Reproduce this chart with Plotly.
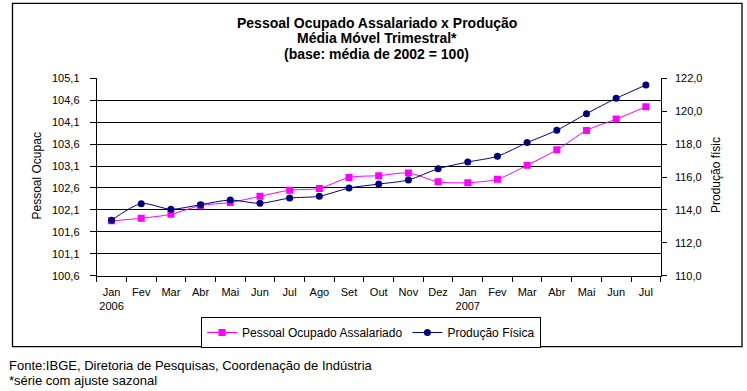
import plotly.graph_objects as go

# ---- data ----
months = ["Jan", "Fev", "Mar", "Abr", "Mai", "Jun", "Jul", "Ago", "Set", "Out",
          "Nov", "Dez", "Jan", "Fev", "Mar", "Abr", "Mai", "Jun", "Jul"]
years = {0: "2006", 12: "2007"}
pessoal = [101.85, 101.91, 102.00, 102.20, 102.27, 102.41, 102.55, 102.59, 102.84, 102.88,
           102.94, 102.74, 102.72, 102.80, 103.12, 103.47, 103.91, 104.17, 104.45]
producao = [113.37, 114.38, 114.04, 114.32, 114.60, 114.40, 114.72, 114.83, 115.33, 115.57,
            115.82, 116.50, 116.91, 117.26, 118.09, 118.84, 119.85, 120.78, 121.59]
left_ticks = [100.6, 101.1, 101.6, 102.1, 102.6, 103.1, 103.6, 104.1, 104.6, 105.1]
right_ticks = [110, 112, 114, 116, 118, 120, 122]

title_lines = ["Pessoal Ocupado Assalariado x Produção",
               "Média Móvel Trimestral*",
               "(base: média de 2002 = 100)"]
footer_lines = ["Fonte:IBGE, Diretoria de Pesquisas, Coordenação de Indústria",
                "*série com ajuste sazonal"]

FONT = "Liberation Sans, Arial, sans-serif"
W, H = 747, 391
xs = list(range(len(months)))
ticktext = [m + ("<br>" + years[i] if i in years else "") for i, m in enumerate(months)]

fig = go.Figure()
fig.add_trace(go.Scatter(
    x=xs, y=pessoal, name="Pessoal Ocupado Assalariado", mode="lines+markers",
    line=dict(color="#FF00FF", width=1, shape="spline", smoothing=0.8),
    marker=dict(symbol="square", size=7, color="#FF00FF"),
    yaxis="y"))
fig.add_trace(go.Scatter(
    x=xs, y=producao, name="Produção Física", mode="lines+markers",
    line=dict(color="#000080", width=1, shape="spline", smoothing=0.8),
    marker=dict(symbol="circle", size=7, color="#000080"),
    yaxis="y2"))

def px_x(p):
    return p / W

def px_y(p):
    return 1 - p / H

fig.update_layout(
    width=W, height=H,
    margin=dict(l=0, r=0, t=0, b=0, autoexpand=False),
    paper_bgcolor="white", plot_bgcolor="white",
    font=dict(family=FONT, size=11, color="black"),
    separators=",.",
    showlegend=True,
    legend=dict(orientation="h", x=px_x(371), xanchor="center",
                y=px_y(332.5), yanchor="middle",
                bordercolor="black", borderwidth=1, bgcolor="white",
                font=dict(size=12), itemwidth=30, tracegroupgap=0),
    xaxis=dict(domain=[px_x(96.7), px_x(660.7)], range=[-0.5, len(months) - 0.5],
               tickmode="array", tickvals=xs, ticktext=ticktext, ticks="",
               showline=True, linecolor="black", linewidth=1, showgrid=False,
               zeroline=False, ticklabelstandoff=6, automargin=False,
               minor=dict(tickmode="linear", tick0=-0.5, dtick=1, ticks="outside",
                          ticklen=5, tickcolor="black", showgrid=False)),
    yaxis=dict(domain=[px_y(275.7), px_y(78.3)], range=[left_ticks[0], left_ticks[-1]],
               tickmode="array", tickvals=left_ticks, tickformat=".1f",
               ticks="outside", ticklen=6, tickcolor="black",
               showline=True, linecolor="black", showgrid=True, gridcolor="black",
               gridwidth=1, zeroline=False, ticklabelstandoff=8, automargin=False),
    yaxis2=dict(overlaying="y", side="right", range=[right_ticks[0], right_ticks[-1]],
                tickmode="array", tickvals=right_ticks, tickformat=".1f",
                ticks="outside", ticklen=5, tickcolor="black",
                showline=True, linecolor="black", showgrid=False, zeroline=False,
                ticklabelstandoff=6, automargin=False),
)

# outer border
fig.add_shape(type="rect", xref="paper", yref="paper",
              x0=px_x(12.5), x1=px_x(742), y0=px_y(346.7), y1=px_y(3.3),
              line=dict(color="black", width=1.3), layer="below")

annotations = []
for i, (t, yy) in enumerate(zip(title_lines, [22.5, 38.5, 54])):
    annotations.append(dict(text="<b>" + t + "</b>", x=px_x(376.5), y=px_y(yy),
                            xref="paper", yref="paper", xanchor="center", yanchor="middle",
                            showarrow=False, font=dict(size=14, family=FONT)))
annotations.append(dict(text="Pessoal Ocupac", x=px_x(37), y=px_y(176.5), xref="paper",
                        yref="paper", xanchor="center", yanchor="middle", textangle=-90,
                        showarrow=False, font=dict(size=12)))
annotations.append(dict(text="Produção físic", x=px_x(716), y=px_y(175), xref="paper",
                        yref="paper", xanchor="center", yanchor="middle", textangle=-90,
                        showarrow=False, font=dict(size=12)))
for t, yy in zip(footer_lines, [365, 380.5]):
    annotations.append(dict(text=t, x=px_x(7), y=px_y(yy), xref="paper", yref="paper",
                            xanchor="left", yanchor="middle", showarrow=False,
                            font=dict(size=13)))
fig.update_layout(annotations=annotations)

fig.write_html("out.html", config={"displayModeBar": False},
               post_script="document.body.style.margin='0';document.body.style.padding='0';")
